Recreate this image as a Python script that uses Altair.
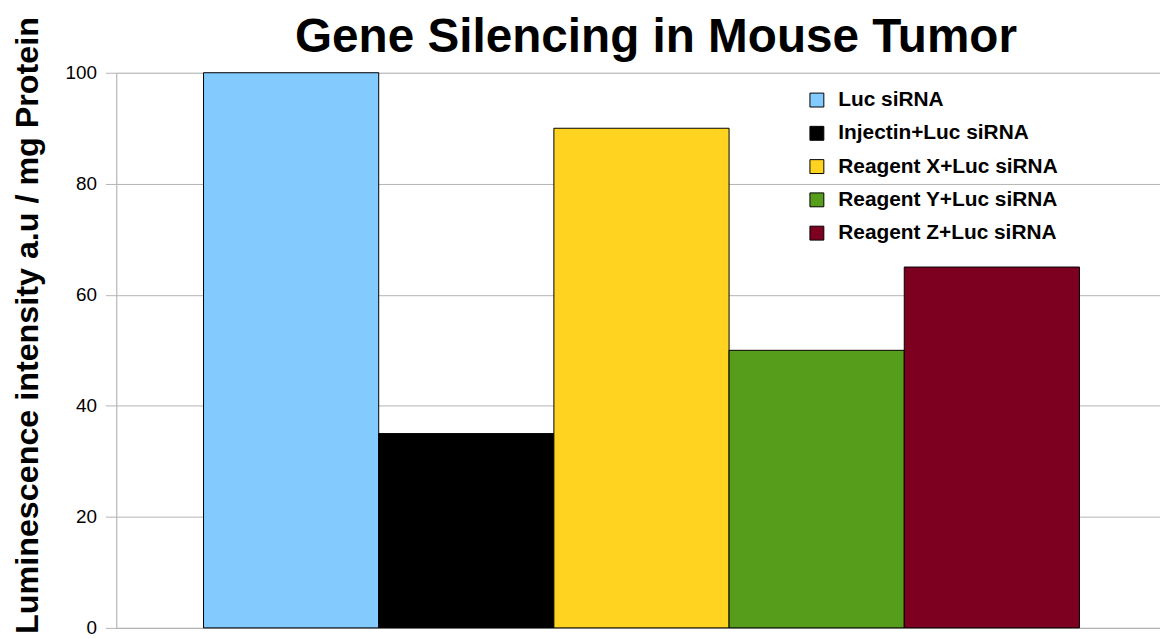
import altair as alt
import pandas as pd

series = ["Luc siRNA", "Injectin+Luc siRNA", "Reagent X+Luc siRNA",
          "Reagent Y+Luc siRNA", "Reagent Z+Luc siRNA"]
values = [100, 35, 90, 50, 65]
colors = ["#83CAFF", "#000000", "#FFD320", "#579D1C", "#7E0021"]
y_ticks = [0, 20, 40, 60, 80, 100]

df = pd.DataFrame({"series": series, "value": values})

FONT = "Liberation Sans"

chart = alt.Chart(df).mark_bar(stroke="#000000", strokeWidth=1).encode(
    x=alt.X("series:N", sort=series,
            scale=alt.Scale(paddingInner=0, paddingOuter=0.479, align=0.52),
            axis=alt.Axis(labels=False, ticks=False, title=None,
                          domainColor="#b3b3b3", grid=False)),
    y=alt.Y("value:Q",
            scale=alt.Scale(domain=[0, 100], nice=False),
            axis=alt.Axis(values=y_ticks, title="Luminescence intensity a.u / mg Protein",
                          titleFont=FONT, titleFontSize=32.5, titleFontWeight="bold",
                          titleColor="#000000", titleAngle=270, titleAlign="center",
                          titleBaseline="alphabetic", titleX=-79, titleY=254,
                          labelFont=FONT, labelFontSize=19, labelColor="#000000",
                          labelPadding=9, tickSize=11, tickColor="#b3b3b3",
                          domainColor="#b3b3b3", gridColor="#b3b3b3")),
    color=alt.Color("series:N", sort=series,
                    scale=alt.Scale(domain=series, range=colors),
                    legend=alt.Legend(title=None, orient="none", legendX=695, legendY=17,
                                      symbolType="square", symbolSize=196,
                                      symbolStrokeColor="#000000", symbolStrokeWidth=1,
                                      symbolOpacity=1,
                                      labelFont=FONT, labelFontSize=21,
                                      labelFontWeight="bold", labelColor="#000000",
                                      labelOffset=11, rowPadding=11.5, padding=0,
                                      labelLimit=400)),
).properties(
    width=1051,
    height=559,
    title=alt.TitleParams("Gene Silencing in Mouse Tumor", font=FONT, fontSize=48,
                          fontWeight="bold", color="#000000", anchor="middle",
                          frame="group", baseline="alphabetic", offset=0, dx=18, dy=84),
    autosize=alt.AutoSizeParams(type="none"),
    padding={"left": 109, "top": 63, "right": 0, "bottom": 9},
).configure_view(stroke=None).configure(background="#ffffff")

chart.save("out.html", embed_options={"renderer": "svg", "actions": False})
